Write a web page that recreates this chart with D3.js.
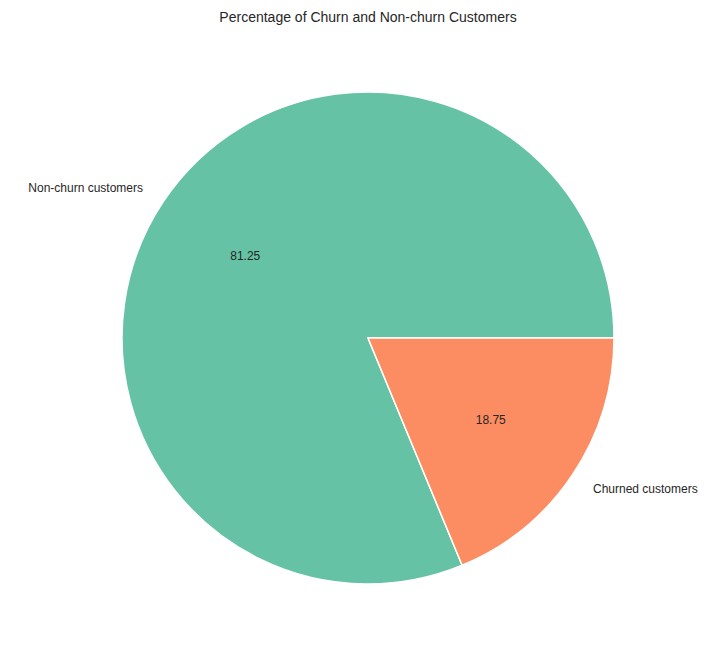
<!DOCTYPE html>
<html>
<head>
<meta charset="utf-8">
<script src="https://cdn.jsdelivr.net/npm/d3@7"></script>
<style>
  body { margin: 0; background: #fff; }
  text { font-family: Arial, "Liberation Sans", sans-serif; fill: #262626; }
</style>
</head>
<body>
<svg id="chart" width="724" height="656"></svg>
<script>
// data
const labels = ["Non-churn customers", "Churned customers"];
const values = [81.25, 18.75];
const colors = ["#66c2a5", "#fc8d62"];

const svg = d3.select("#chart");
const cx = 368, cy = 338, r = 246;

svg.append("text")
  .attr("x", cx).attr("y", 22)
  .attr("text-anchor", "middle")
  .style("font-size", "14px")
  .text("Percentage of Churn and Non-churn Customers");

// matplotlib style: start at 3 o'clock, counterclockwise
const pie = d3.pie().sort(null)
  .startAngle(Math.PI / 2)
  .endAngle(Math.PI / 2 - 2 * Math.PI);

const arcs = pie(values);
const arc = d3.arc().innerRadius(0).outerRadius(r);
const g = svg.append("g").attr("transform", `translate(${cx},${cy})`);

g.selectAll("path")
  .data(arcs)
  .enter()
  .append("path")
  .attr("d", arc)
  .attr("fill", (d, i) => colors[i])
  .attr("stroke", "#fff")
  .attr("stroke-width", 1.5);

function pos(d, k) {
  const a = (d.startAngle + d.endAngle) / 2;
  return [k * r * Math.sin(a), -k * r * Math.cos(a)];
}

g.selectAll(".lbl")
  .data(arcs)
  .enter()
  .append("text")
  .attr("class", "lbl")
  .attr("x", d => pos(d, 1.1)[0])
  .attr("y", d => pos(d, 1.1)[1])
  .attr("dy", "0.35em")
  .attr("text-anchor", d => pos(d, 1.1)[0] < 0 ? "end" : "start")
  .style("font-size", "12px")
  .text((d, i) => labels[i]);

g.selectAll(".pct")
  .data(arcs)
  .enter()
  .append("text")
  .attr("class", "pct")
  .attr("x", d => pos(d, 0.6)[0])
  .attr("y", d => pos(d, 0.6)[1])
  .attr("dy", "0.35em")
  .attr("text-anchor", "middle")
  .style("font-size", "12px")
  .text((d, i) => values[i].toFixed(2));
</script>
</body>
</html>
